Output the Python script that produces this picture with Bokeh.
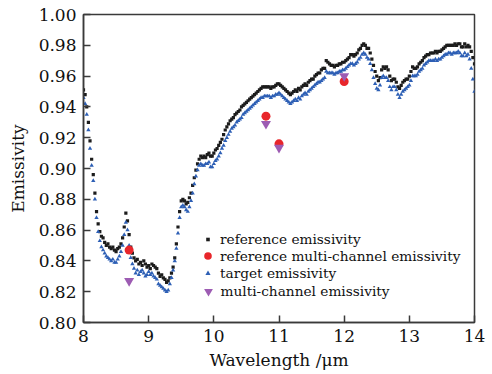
from bokeh.plotting import figure
from bokeh.models import (FixedTicker, PrintfTickFormatter, Legend, LegendItem,
                          ColumnDataSource, Range1d)
from bokeh.embed import file_html
from bokeh.resources import INLINE

# ---------------- data ----------------
wavelength = [round(8.0 + 0.025 * i, 3) for i in range(241)]

reference_emissivity = [
    0.951, 0.948, 0.940, 0.930, 0.918, 0.906, 0.896, 0.884, 0.872, 0.864,
    0.859, 0.856, 0.855, 0.852, 0.850, 0.851, 0.849, 0.848, 0.849, 0.847,
    0.846, 0.848, 0.849, 0.851, 0.855, 0.862, 0.871, 0.866, 0.857, 0.849,
    0.845, 0.842, 0.840, 0.841, 0.838, 0.839, 0.837, 0.840, 0.838, 0.836,
    0.837, 0.835, 0.838, 0.837, 0.836, 0.835, 0.832, 0.830, 0.831, 0.829,
    0.828, 0.826, 0.827, 0.829, 0.832, 0.836, 0.842, 0.851, 0.862, 0.872,
    0.879, 0.880, 0.879, 0.877, 0.878, 0.881, 0.884, 0.889, 0.894, 0.899,
    0.903, 0.906, 0.908, 0.907, 0.908, 0.907, 0.909, 0.910, 0.908, 0.908,
    0.910, 0.912, 0.913, 0.915, 0.917, 0.919, 0.922, 0.925, 0.927, 0.929,
    0.931, 0.932, 0.933, 0.935, 0.936, 0.937, 0.938, 0.940, 0.941, 0.942,
    0.943, 0.944, 0.945, 0.946, 0.947, 0.948, 0.949, 0.950, 0.951, 0.952,
    0.953, 0.953, 0.953, 0.953, 0.953, 0.952, 0.953, 0.953, 0.954, 0.955,
    0.955, 0.954, 0.953, 0.952, 0.951, 0.950, 0.949, 0.948, 0.949, 0.950,
    0.951, 0.950, 0.952, 0.951, 0.953, 0.954, 0.955, 0.954, 0.956, 0.957,
    0.958, 0.958, 0.960, 0.961, 0.962, 0.962, 0.964, 0.965, 0.965, 0.970,
    0.969, 0.968, 0.967, 0.967, 0.966, 0.967, 0.967, 0.968, 0.968, 0.969,
    0.969, 0.970, 0.971, 0.972, 0.974, 0.974, 0.973, 0.974, 0.975, 0.977,
    0.978, 0.980, 0.981, 0.980, 0.978, 0.978, 0.975, 0.971, 0.967, 0.963,
    0.960, 0.957, 0.959, 0.964, 0.966, 0.965, 0.966, 0.964, 0.960, 0.957,
    0.958, 0.958, 0.956, 0.953, 0.952, 0.954, 0.956, 0.957, 0.958, 0.958,
    0.960, 0.963, 0.966, 0.965, 0.965, 0.966, 0.968, 0.969, 0.970, 0.972,
    0.973, 0.974, 0.974, 0.975, 0.975, 0.975, 0.976, 0.975, 0.976, 0.976,
    0.977, 0.978, 0.979, 0.980, 0.980, 0.980, 0.980, 0.980, 0.981, 0.980,
    0.981, 0.981, 0.979, 0.979, 0.981, 0.979, 0.980, 0.979, 0.976, 0.972,
    0.968,
]

target_emissivity = [
    0.946, 0.942, 0.935, 0.925, 0.913, 0.902, 0.892, 0.880, 0.868, 0.859,
    0.853, 0.849, 0.847, 0.845, 0.843, 0.842, 0.841, 0.840, 0.841, 0.839,
    0.839, 0.841, 0.843, 0.846, 0.850, 0.857, 0.865, 0.860, 0.850, 0.842,
    0.838, 0.835, 0.832, 0.834, 0.831, 0.833, 0.834, 0.832, 0.830, 0.831,
    0.833, 0.831, 0.832, 0.830, 0.829, 0.828, 0.825, 0.824, 0.823, 0.822,
    0.821, 0.820, 0.821, 0.825, 0.829, 0.834, 0.840, 0.848, 0.858, 0.868,
    0.875, 0.876, 0.875, 0.873, 0.872, 0.875, 0.879, 0.884, 0.890, 0.895,
    0.899, 0.902, 0.903, 0.902, 0.902, 0.903, 0.903, 0.904, 0.901, 0.901,
    0.903, 0.905, 0.906, 0.908, 0.910, 0.913, 0.915, 0.918, 0.920, 0.922,
    0.924, 0.926, 0.927, 0.928, 0.930, 0.931, 0.932, 0.933, 0.935, 0.936,
    0.937, 0.938, 0.939, 0.940, 0.941, 0.942, 0.943, 0.944, 0.945, 0.946,
    0.946, 0.947, 0.947, 0.947, 0.947, 0.946, 0.947, 0.947, 0.948, 0.948,
    0.949, 0.948, 0.947, 0.946, 0.945, 0.944, 0.943, 0.942, 0.943, 0.944,
    0.945, 0.944, 0.946, 0.945, 0.947, 0.948, 0.949, 0.948, 0.950, 0.951,
    0.952, 0.953, 0.954, 0.955, 0.956, 0.956, 0.957, 0.958, 0.959, 0.963,
    0.962, 0.962, 0.962, 0.962, 0.961, 0.962, 0.962, 0.963, 0.963, 0.964,
    0.964, 0.965, 0.966, 0.967, 0.968, 0.968, 0.967, 0.968, 0.969, 0.971,
    0.972, 0.974, 0.975, 0.974, 0.972, 0.971, 0.968, 0.964, 0.959, 0.955,
    0.952, 0.951, 0.954, 0.959, 0.960, 0.959, 0.959, 0.957, 0.953, 0.951,
    0.953, 0.953, 0.951, 0.948, 0.946, 0.948, 0.950, 0.951, 0.952, 0.953,
    0.954, 0.957, 0.960, 0.960, 0.960, 0.961, 0.963, 0.964, 0.965, 0.967,
    0.968, 0.969, 0.970, 0.970, 0.970, 0.970, 0.971, 0.970, 0.971, 0.971,
    0.972, 0.973, 0.974, 0.974, 0.975, 0.975, 0.974, 0.975, 0.975, 0.975,
    0.976, 0.975, 0.973, 0.973, 0.975, 0.973, 0.974, 0.971, 0.965, 0.958,
    0.950,
]

channel_wavelength = [8.7, 10.8, 11.0, 12.0]
reference_multichannel = [0.847, 0.934, 0.916, 0.9565]
multichannel = [0.827, 0.929, 0.9135, 0.960]

x_ticks = [8, 9, 10, 11, 12, 13, 14]
y_ticks = [0.80, 0.82, 0.84, 0.86, 0.88, 0.90, 0.92, 0.94, 0.96, 0.98, 1.00]

labels = ["reference emissivity", "reference multi-channel emissivity",
          "target emissivity", "multi-channel emissivity"]

# ---------------- styling ----------------
FONT = "DejaVu Serif"
BLACK = "#1c1c1c"
BLUE = "#2d5fb5"
RED = "#e8262b"
PURPLE = "#9d5cb3"
AXIS = "#3a3a3a"

p = figure(width=492, height=374, output_backend="svg", toolbar_location=None,
           x_range=Range1d(8, 14), y_range=Range1d(0.80, 1.00),
           min_border_left=83, min_border_right=18,
           min_border_top=14, min_border_bottom=52)
p.background_fill_color = "white"
p.border_fill_color = "white"
p.grid.visible = False
p.outline_line_color = AXIS
p.outline_line_width = 1.5

for ax in (p.xaxis[0], p.yaxis[0]):
    ax.axis_line_color = AXIS
    ax.axis_line_width = 1.5
    ax.major_tick_line_color = AXIS
    ax.major_tick_line_width = 1.5
    ax.major_tick_in = 7
    ax.major_tick_out = 0
    ax.minor_tick_line_color = None
    ax.major_label_text_font = FONT
    ax.major_label_text_font_size = "17px"
    ax.major_label_text_color = "#111111"
    ax.axis_label_text_font = FONT
    ax.axis_label_text_font_size = "17px"
    ax.axis_label_text_font_style = "normal"
    ax.axis_label_text_color = "#111111"

p.xaxis.ticker = FixedTicker(ticks=x_ticks)
p.yaxis.ticker = FixedTicker(ticks=y_ticks)
p.yaxis.formatter = PrintfTickFormatter(format="%.2f")
p.xaxis.axis_label = "Wavelength /μm"
p.yaxis.axis_label = "Emissivity"
p.xaxis.major_label_standoff = 7
p.yaxis.major_label_standoff = 7
p.xaxis.axis_label_standoff = 5
p.yaxis.axis_label_standoff = 8

src_ref = ColumnDataSource(dict(x=wavelength, y=reference_emissivity))
src_tgt = ColumnDataSource(dict(x=wavelength, y=target_emissivity))
src_mc = ColumnDataSource(dict(x=channel_wavelength, r=reference_multichannel,
                               m=multichannel))

r_ref = p.scatter("x", "y", source=src_ref, marker="square", size=3.2,
                  fill_color=BLACK, line_color=None)
r_tgt = p.scatter("x", "y", source=src_tgt, marker="triangle", size=4.3,
                  fill_color=BLUE, line_color=None)
r_rmc = p.scatter("x", "r", source=src_mc, marker="circle", size=9,
                  fill_color=RED, line_color=None)
r_mc = p.scatter("x", "m", source=src_mc, marker="inverted_triangle", size=10,
                 fill_color=PURPLE, line_color=None)

# one legend per entry so each keeps its own marker size
# (glyph box w, h, row centre y in screen px)
specs = [(r_ref, 9, 18, 238.5), (r_rmc, 19, 19, 255.5),
         (r_tgt, 13, 18, 273.0), (r_mc, 22, 22, 291.0)]
frame_left, frame_bottom = 83, 322
marker_cx, text_x = 207.5, 220
for (rend, w, h, cy), lab in zip(specs, labels):
    lg = Legend(items=[LegendItem(label=lab, renderers=[rend])],
                location=(marker_cx - w / 2 - frame_left, frame_bottom - cy - h / 2),
                glyph_width=w, glyph_height=h, label_height=h,
                label_standoff=int(round(text_x - (marker_cx + w / 2))),
                padding=0, margin=0, spacing=0,
                border_line_color=None, background_fill_alpha=0,
                label_text_font=FONT, label_text_font_size="13.7px",
                label_text_color="#111111")
    p.add_layout(lg, "center")

open("out.html", "w").write(file_html(p, INLINE))
